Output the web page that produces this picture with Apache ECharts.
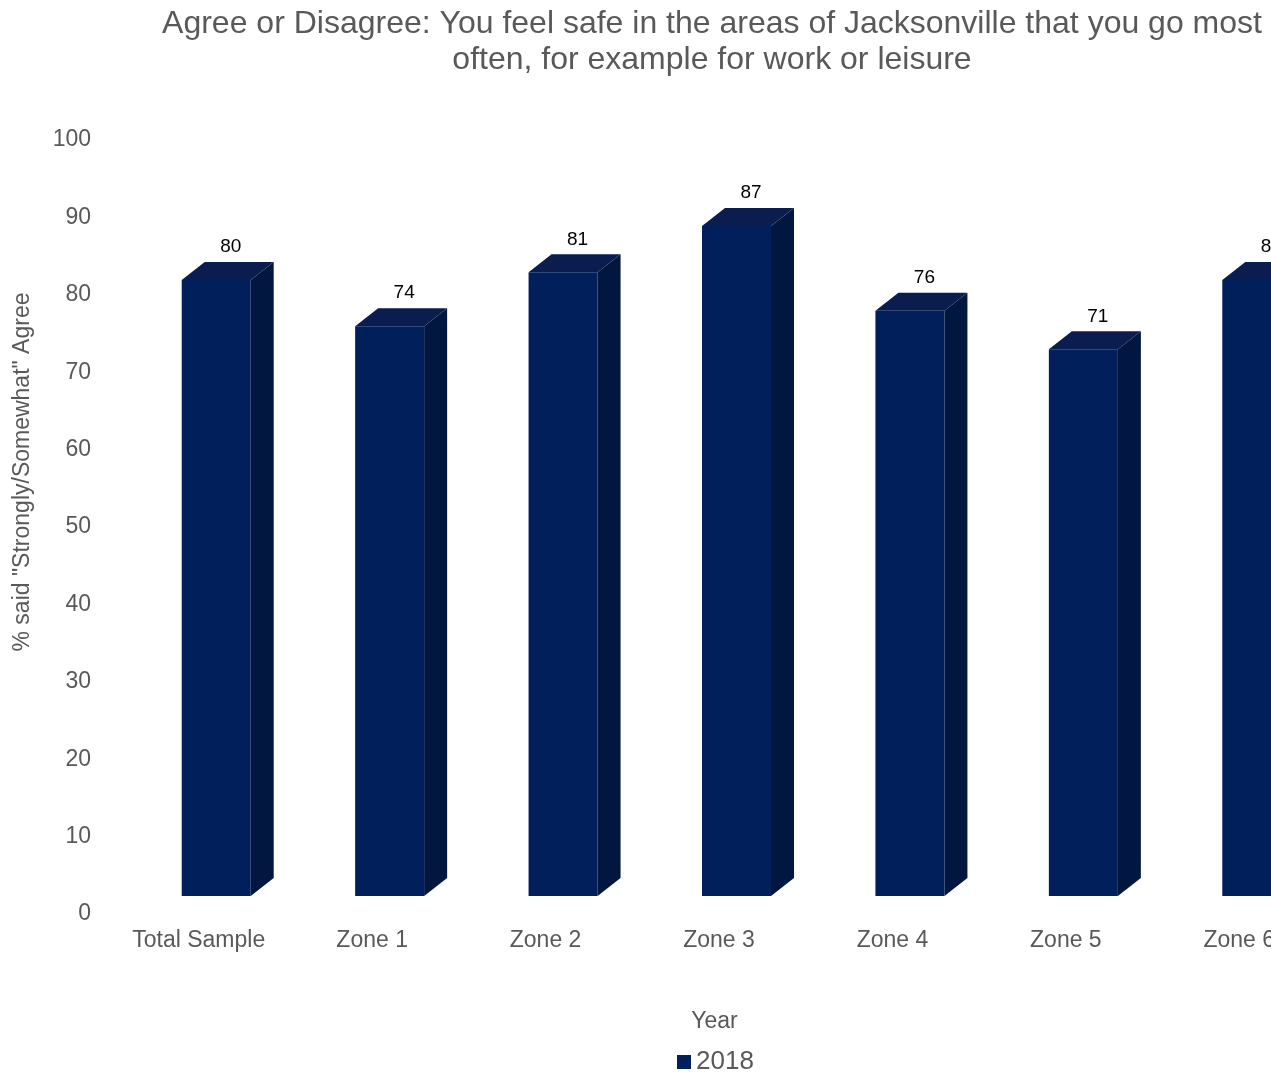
<!DOCTYPE html>
<html>
<head>
<meta charset="utf-8">
<script src="https://cdn.jsdelivr.net/npm/echarts@6/dist/echarts.min.js"></script>
<style>
html,body{margin:0;padding:0;background:#fff;}
#chart{width:1271px;height:1076px;}
</style>
</head>
<body>
<div id="chart"></div>
<script>
const titleText = 'Agree or Disagree: You feel safe in the areas of Jacksonville that you go most\noften, for example for work or leisure';
const categories = ['Total Sample', 'Zone 1', 'Zone 2', 'Zone 3', 'Zone 4', 'Zone 5', 'Zone 6'];
const values2018 = [80, 74, 81, 87, 76, 71, 80];
const seriesName = '2018';
const yAxisTitle = '% said "Strongly/Somewhat" Agree';
const xAxisTitle = 'Year';

const FONT = 'Liberation Sans, Arial, sans-serif';
const GREY = '#595959';
const FRONT = '#001f5b';
const TOP = '#0b1c4f';
const SIDE = '#02173f';

const chart = echarts.init(document.getElementById('chart'));

function renderBar(params, api) {
  const i = api.value(0);
  const v = api.value(1);
  const top = api.coord([i, v]);
  const base = api.coord([i, 0]);
  const hw = 34.5, dx = 23, dy = 18;
  const x0 = top[0] - hw, x1 = top[0] + hw;
  return {
    type: 'group',
    children: [
      { type: 'polygon', shape: { points: [[x1, top[1]], [x1 + dx, top[1] - dy], [x1 + dx, base[1] - dy], [x1, base[1]]] }, style: { fill: SIDE } },
      { type: 'polygon', shape: { points: [[x0, top[1]], [x0 + dx, top[1] - dy], [x1 + dx, top[1] - dy], [x1, top[1]]] }, style: { fill: TOP } },
      { type: 'rect', shape: { x: x0, y: top[1], width: 2 * hw, height: base[1] - top[1] }, style: { fill: FRONT } },
      { type: 'text', style: { text: String(v), x: top[0] + dx / 2 + 3, y: top[1] - dy - 15, align: 'center', verticalAlign: 'middle', font: '19px ' + FONT, fill: '#000' } }
    ]
  };
}

chart.setOption({
  animation: false,
  backgroundColor: '#fff',
  title: {
    text: titleText,
    left: 707,
    top: 1,
    textAlign: 'center',
    textStyle: { fontFamily: FONT, fontSize: 32, fontWeight: 'normal', color: GREY, lineHeight: 36 }
  },
  legend: {
    data: [{ name: seriesName, icon: 'rect' }],
    left: 677,
    top: 1049,
    padding: 0,
    itemWidth: 14,
    itemHeight: 14,
    itemGap: 10,
    textStyle: { fontFamily: FONT, fontSize: 26, color: GREY }
  },
  graphic: [{
    type: 'text',
    x: 23,
    y: 472,
    rotation: Math.PI / 2,
    style: { text: yAxisTitle, font: '23px ' + FONT, fill: GREY, align: 'center', verticalAlign: 'middle' }
  }],
  grid: [
    { left: 112, width: 1214, top: 140, bottom: 162, outerBoundsMode: 'none', containLabel: false },
    { left: 129.5, width: 1214, top: 126, bottom: 180, outerBoundsMode: 'none', containLabel: false }
  ],
  xAxis: [
    {
      gridIndex: 0, type: 'category', data: categories,
      axisLine: { show: false }, axisTick: { show: false },
      axisLabel: { fontFamily: FONT, fontSize: 23, color: GREY, margin: 15, interval: 0 },
      name: xAxisTitle, nameLocation: 'middle', nameGap: 96,
      nameTextStyle: { fontFamily: FONT, fontSize: 23, color: GREY, padding: [0, 9, 0, 0] }
    },
    {
      gridIndex: 1, type: 'category', data: categories, show: false
    }
  ],
  yAxis: [
    {
      gridIndex: 0, type: 'value', min: 0, max: 100, interval: 10,
      axisLine: { show: false }, axisTick: { show: false }, splitLine: { show: false },
      axisLabel: { fontFamily: FONT, fontSize: 23, color: GREY, margin: 21 }
    },
    {
      gridIndex: 1, type: 'value', min: 0, max: 100, interval: 10, show: false, splitLine: { show: false }
    }
  ],
  series: [{
    name: seriesName,
    type: 'custom',
    xAxisIndex: 1,
    yAxisIndex: 1,
    itemStyle: { color: FRONT },
    renderItem: renderBar,
    data: values2018.map((v, i) => [i, v])
  }]
});
</script>
</body>
</html>
